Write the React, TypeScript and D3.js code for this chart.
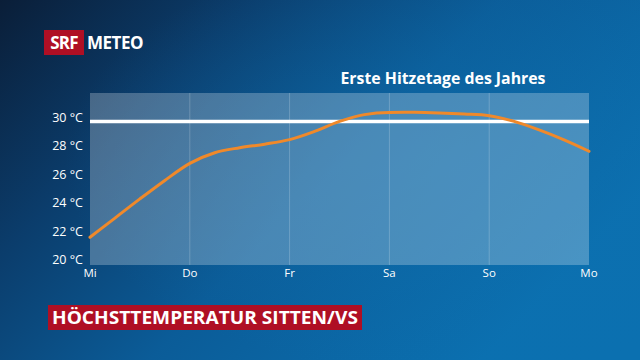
import React from "react";
import * as d3 from "d3";

const days = ["Mi", "Do", "Fr", "Sa", "So", "Mo"];
const yTicks = [20, 22, 24, 26, 28, 30];
const threshold = 30;
// day position (0 = Mi ... 5 = Mo) and max temperature
const tempX = [0, 0.25, 0.5, 0.75, 1, 1.25, 1.5, 1.75, 2, 2.25, 2.5, 2.75, 3, 3.25, 3.5, 3.75, 4, 4.25, 4.5, 4.75, 5];
const tempY = [21.85, 23.2, 24.55, 25.85, 27.05, 27.8, 28.15, 28.4, 28.72, 29.3, 30.0, 30.48, 30.63, 30.64, 30.6, 30.52, 30.4, 30.0, 29.4, 28.7, 27.9];
const title = "Erste Hitzetage des Jahres";
const subtitle = "HÖCHSTTEMPERATUR SITTEN/VS";

const W = 640, H = 360;
const plot = { left: 90, right: 589, top: 93, bottom: 265 };
const FONT = "'Open Sans', 'Noto Sans', sans-serif";

export default function App() {
  const x = d3.scaleLinear().domain([0, days.length - 1]).range([plot.left, plot.right]);
  const y = d3.scaleLinear().domain([19.9, 32.0]).range([plot.bottom, plot.top]);
  const pts: [number, number][] = tempX.map((d, i) => [d, tempY[i]]);
  const line = d3.line<[number, number]>().x(d => x(d[0])).y(d => y(d[1])).curve(d3.curveMonotoneX);

  return (
    <svg width={W} height={H} style={{ position: "absolute", left: 0, top: 0 }}>
      <defs>
        <linearGradient id="bg" x1="0" y1="0" x2="1" y2="0.55">
          <stop offset="0" stopColor="#0a1e38" />
          <stop offset="0.3" stopColor="#0b3d6c" />
          <stop offset="0.6" stopColor="#0b5c98" />
          <stop offset="1" stopColor="#0b70b0" />
        </linearGradient>
        <radialGradient id="glow" cx="0.7" cy="0.45" r="0.6">
          <stop offset="0" stopColor="#0e6fae" stopOpacity="0.5" />
          <stop offset="1" stopColor="#0e6fae" stopOpacity="0" />
        </radialGradient>
      </defs>
      <rect x={0} y={0} width={W} height={H} fill="url(#bg)" />
      <rect x={0} y={0} width={W} height={H} fill="url(#glow)" />

      {/* logo */}
      <rect x={44} y={30} width={40} height={25} fill="#af0f24" />
      <text x={64} y={49} textAnchor="middle" fill="#fff" fontFamily={FONT} fontWeight={700} fontSize={17} letterSpacing={-0.8}>SRF</text>
      <text x={87} y={49} fill="#fff" fontFamily={FONT} fontWeight={700} fontSize={17} letterSpacing={-0.5}>METEO</text>

      {/* title */}
      <text x={443} y={84} textAnchor="middle" fill="#fff" fontFamily={FONT} fontWeight={700} fontSize={15.5} textLength={205} lengthAdjust="spacingAndGlyphs">{title}</text>

      {/* plot background */}
      <rect x={plot.left} y={plot.top} width={plot.right - plot.left} height={plot.bottom - plot.top} fill="#ffffff" fillOpacity={0.25} />
      {days.map((d, i) => (i > 0 && i < days.length - 1 ? (
        <line key={d} x1={x(i)} x2={x(i)} y1={plot.top} y2={plot.bottom} stroke="#ffffff" strokeOpacity={0.2} strokeWidth={1} />
      ) : null))}

      {/* y tick labels */}
      {yTicks.map(t => (
        <text key={t} x={83} y={y(t) + 0.5} textAnchor="end" fill="#fff" fontFamily={FONT} fontSize={12.5}>{`${t} °C`}</text>
      ))}

      {/* x labels */}
      {days.map((d, i) => (
        <text key={d} x={x(i)} y={277} textAnchor="middle" fill="#fff" fontFamily={FONT} fontSize={11.5}>{d}</text>
      ))}

      {/* threshold line */}
      <line x1={plot.left} x2={plot.right} y1={y(threshold)} y2={y(threshold)} stroke="#ffffff" strokeWidth={3.5} />

      {/* temperature curve */}
      <path d={line(pts) || ""} fill="none" stroke="#f0892a" strokeWidth={3} strokeLinecap="round" />

      {/* bottom title */}
      <rect x={48} y={305} width={314} height={25} fill="#af0f24" />
      <text x={205} y={324} textAnchor="middle" fill="#fff" fontFamily={FONT} fontWeight={700} fontSize={17.5} textLength={306} lengthAdjust="spacingAndGlyphs">{subtitle}</text>
    </svg>
  );
}
